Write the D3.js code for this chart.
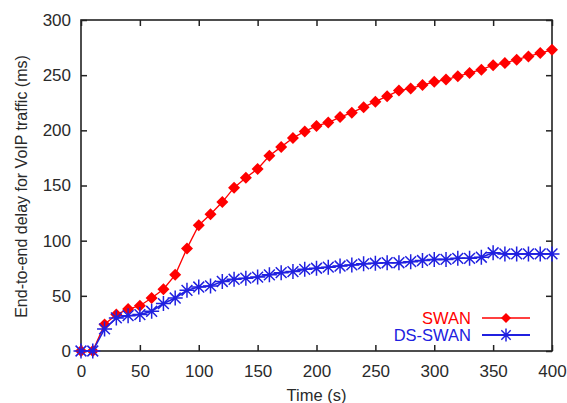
<!DOCTYPE html>
<html><head><meta charset="utf-8">
<script src="https://cdn.jsdelivr.net/npm/d3@7"></script>
<style>
html,body{margin:0;padding:0;background:#fff;}
text{font-family:"Liberation Sans",Arial,sans-serif;}
</style></head>
<body>
<svg id="chart" width="567" height="403"></svg>
<script>
const times = [0,10,20,30,40,50,60,70,80,90,100,110,120,130,140,150,160,170,180,190,200,210,220,230,240,250,260,270,280,290,300,310,320,330,340,350,360,370,380,390,400];
const swan = [0,0,24,33,38,41,48,56,69,93,114,124,135,148,157,165,177,185,193,199,204,207,212,216,221,226,231,236,238,241,244,246,249,252,255,259,261,264,267,270,273];
const dsSwan = [0,0,20,30,32,33,36,43,48,55,58,59,63,65,66,67,69,71,72,74,75,76,77,78,79,79.5,80,80,81,82,83,83,84,84,85,89,88,88,88,88,88];
const xTicks = [0,50,100,150,200,250,300,350,400];
const yTicks = [0,50,100,150,200,250,300];
const seriesNames = ["SWAN","DS-SWAN"];
const seriesColors = ["#ff0000","#2020e0"];

(function(){
const svg = d3.select("#chart");
const m = {l:81, r:15, t:20, b:52};
const W = 567, H = 403;
const x = d3.scaleLinear().domain([0,400]).range([m.l, W-m.r]);
const y = d3.scaleLinear().domain([0,300]).range([H-m.b, m.t]);

const axisCol = "#222";
const txtCol = "#2a2a2a";
const tl = 6;
const gBottom = svg.append("g").attr("transform",`translate(0,${H-m.b})`)
  .call(d3.axisBottom(x).tickValues(xTicks).tickSizeInner(-tl).tickSizeOuter(0).tickPadding(14));
const gTop = svg.append("g").attr("transform",`translate(0,${m.t})`)
  .call(d3.axisTop(x).tickValues(xTicks).tickSizeInner(-tl).tickSizeOuter(0).tickFormat(""));
const gLeft = svg.append("g").attr("transform",`translate(${m.l},0)`)
  .call(d3.axisLeft(y).tickValues(yTicks).tickSizeInner(-tl).tickSizeOuter(0).tickPadding(10));
const gRight = svg.append("g").attr("transform",`translate(${W-m.r},0)`)
  .call(d3.axisRight(y).tickValues(yTicks).tickSizeInner(-tl).tickSizeOuter(0).tickFormat(""));
[gBottom,gTop,gLeft,gRight].forEach(g=>{
  g.select(".domain").remove();
  g.selectAll(".tick line").attr("stroke",axisCol).attr("stroke-width",1.5);
  g.selectAll("text").attr("font-size",17).attr("fill",txtCol);
});
svg.append("rect").attr("x",m.l).attr("y",m.t).attr("width",W-m.r-m.l).attr("height",H-m.b-m.t)
  .attr("fill","none").attr("stroke",axisCol).attr("stroke-width",1.6);

svg.append("text").attr("x",(m.l+W-m.r)/2).attr("y",401).attr("text-anchor","middle")
  .attr("font-size",16.5).attr("fill",txtCol).text("Time (s)");
svg.append("text").attr("transform",`translate(27,${(40+333)/2}) rotate(-90)`)
  .attr("text-anchor","middle").attr("font-size",16).attr("fill",txtCol)
  .text("End-to-end delay for VoIP traffic (ms)");

const line = d3.line().x(d=>x(d[0])).y(d=>y(d[1]));
function star(g, cx, cy, r, col){
  const k = r*0.72;
  const p = `M${cx-r},${cy}L${cx+r},${cy}M${cx},${cy-r}L${cx},${cy+r}M${cx-k},${cy-k}L${cx+k},${cy+k}M${cx-k},${cy+k}L${cx+k},${cy-k}`;
  g.append("path").attr("d",p).attr("stroke",col).attr("stroke-width",1.5).attr("fill","none");
}
function diam(g, cx, cy, r, col){
  g.append("path").attr("d",`M${cx},${cy-r}L${cx+r},${cy}L${cx},${cy+r}L${cx-r},${cy}Z`).attr("fill",col);
}

const sw = times.map((t,i)=>[t,swan[i]]);
const ds = times.map((t,i)=>[t,dsSwan[i]]);

const gS = svg.append("g");
gS.append("path").datum(sw).attr("d",line).attr("fill","none").attr("stroke",seriesColors[0]).attr("stroke-width",1.3);
sw.forEach(d=>diam(gS, x(d[0]), y(d[1]), 6, seriesColors[0]));

const gD = svg.append("g");
gD.append("path").datum(ds).attr("d",line).attr("fill","none").attr("stroke",seriesColors[1]).attr("stroke-width",1.6);
ds.forEach(d=>star(gD, x(d[0]), y(d[1]), 7.5, seriesColors[1]));

const lg = svg.append("g");
const ly = [318, 335];
seriesNames.forEach((n,i)=>{
  lg.append("text").attr("x",471).attr("y",ly[i]+6).attr("text-anchor","end")
    .attr("font-size",16.5).attr("fill",seriesColors[i]).text(n);
  lg.append("line").attr("x1",482).attr("x2",530).attr("y1",ly[i]).attr("y2",ly[i])
    .attr("stroke",seriesColors[i]).attr("stroke-width",i?2:1.3);
});
diam(lg, 506, ly[0], 5, seriesColors[0]);
star(lg, 506, ly[1], 6.5, seriesColors[1]);
})();
</script>
</body></html>
